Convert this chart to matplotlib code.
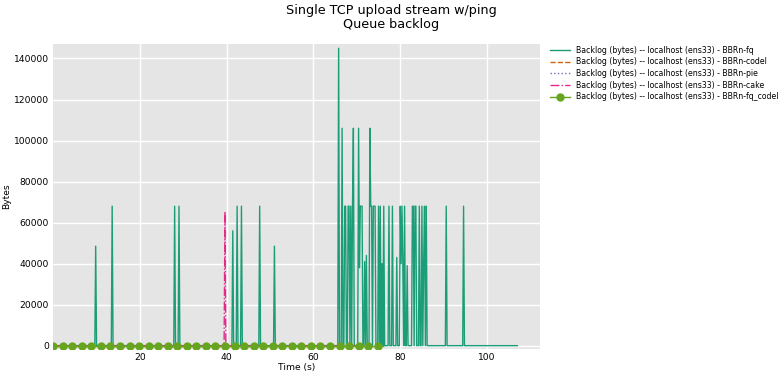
import numpy as np
import matplotlib.pyplot as plt

# sample step of the flent data (s)
step = 0.2

# BBRn-fq: time (s) and backlog (bytes) of the non-zero samples, rest is 0
fq_end = 107.0
fq_spike_t = [9.8, 13.6, 28.0, 29.0, 41.4, 42.4, 43.4, 47.6, 51.0,
              65.8, 66.6, 67.2, 67.4, 68.0, 68.2, 68.6, 69.0, 69.2,
              70.4, 70.6, 70.8, 71.0, 71.2, 71.8, 72.2, 73.0, 73.2,
              73.4, 73.8, 74.0, 74.2, 75.0, 75.4, 75.8, 76.2, 77.4,
              78.2, 79.2, 80.0, 80.2, 80.4, 80.6, 81.0, 81.6, 82.8,
              83.0, 83.4, 83.6, 84.4, 85.0, 85.4, 85.6, 86.0, 90.6, 94.6]
fq_spike_v = [48500, 68000, 68000, 68000, 56000, 68000, 68000, 68000, 48500,
              145000, 106000, 68000, 68000, 68000, 68000, 68000, 68000, 106000,
              106000, 38000, 68000, 68000, 68000, 41000, 44000, 106000, 68000,
              68000, 68000, 68000, 68000, 68000, 68000, 40000, 68000, 68000,
              68000, 43000, 68000, 40000, 68000, 40000, 68000, 39000, 68000,
              68000, 68000, 68000, 68000, 68000, 41000, 68000, 68000, 68000, 68000]

# BBRn-codel / BBRn-pie: flat at zero
codel_end = 70.0
pie_end = 70.0

# BBRn-cake: one spike
cake_end = 70.0
cake_spike_t = [39.6]
cake_spike_v = [65400]

# BBRn-fq_codel: flat at zero
fqcodel_end = 76.0

prefix = "Backlog (bytes) -- localhost (ens33) - "
names = ["BBRn-fq", "BBRn-codel", "BBRn-pie", "BBRn-cake", "BBRn-fq_codel"]
colors = ["#1b9e77", "#d95f02", "#7570b3", "#e7298a", "#66a61e"]
styles = ["-", "--", ":", "-.", "-"]


def series(end, spike_t=(), spike_v=()):
    t = np.round(np.arange(0, end + step / 2, step), 1)
    v = np.zeros(len(t))
    for st, sv in zip(spike_t, spike_v):
        v[int(round(st / step))] = sv
    return t, v


data = [series(fq_end, fq_spike_t, fq_spike_v),
        series(codel_end),
        series(pie_end),
        series(cake_end, cake_spike_t, cake_spike_v),
        series(fqcodel_end)]

fig = plt.figure(figsize=(7.82, 3.74), dpi=100)
ax = fig.add_axes([0.068, 0.067, 0.623, 0.815])
ax.set_facecolor("#e5e5e5")
for s in ax.spines.values():
    s.set_visible(False)
ax.grid(True, color="white", linewidth=1.0)
ax.set_axisbelow(True)

for i, (t, v) in enumerate(data):
    kw = {}
    if i == 4:
        kw = dict(marker="o", markersize=5, markevery=11)
    ax.plot(t, v, linestyle=styles[i], color=colors[i], linewidth=1.0,
            label=prefix + names[i], **kw)

ax.set_xlim(0, 112.3)
ax.set_ylim(-1600, 147000)
ax.set_xticks([20, 40, 60, 80, 100])
ax.set_yticks(np.arange(0, 140001, 20000))
ax.tick_params(labelsize=6.6, length=0, pad=3)
ax.set_xlabel("Time (s)", fontsize=6.6, labelpad=1)
ax.set_ylabel("Bytes", fontsize=6.6, labelpad=2)

fig.suptitle("Single TCP upload stream w/ping\nQueue backlog", fontsize=9.2, y=0.99,
             linespacing=1.1)
ax.legend(loc="upper left", bbox_to_anchor=(1.005, 1.018), frameon=False,
          fontsize=5.6, handlelength=2.6, labelspacing=0.34)

fig.savefig("out.png", dpi=100)
